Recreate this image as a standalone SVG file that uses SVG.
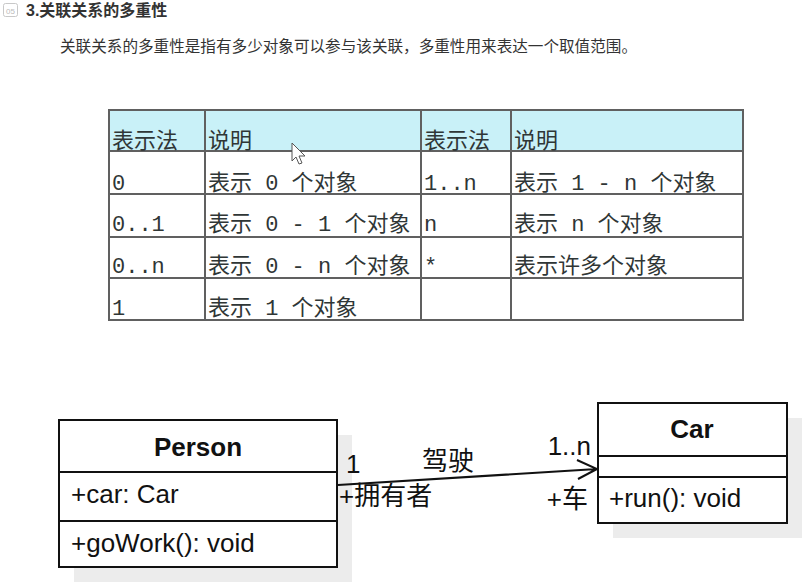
<svg xmlns="http://www.w3.org/2000/svg" width="802" height="583" viewBox="0 0 802 583">
<style>
.t{font-family:"Liberation Mono","Noto Sans CJK SC",monospace;font-size:22px;fill:#2f3636}
.g{stroke:#606060;stroke-width:2;fill:none}
.u{font-family:"Liberation Sans","Noto Sans CJK SC",sans-serif;font-size:26px;fill:#111}
.b{font-weight:bold}
.box{fill:#fff;stroke:#111;stroke-width:2}
.sh{fill:#ececec}
</style>
<rect width="802" height="583" fill="#fff"/>
<g id="heading">
<rect x="3.5" y="3.5" width="14" height="13" rx="2" fill="none" stroke="#c8c8c8"/>
<text x="10.5" y="13.5" font-family="Liberation Sans,sans-serif" font-size="8" fill="#bbb" text-anchor="middle">05</text>
<text x="26" y="16" font-family="Liberation Sans,'Noto Sans CJK SC',sans-serif" font-size="16" font-weight="bold" fill="#333">3.关联关系的多重性</text>
<text x="60" y="52" font-family="'Noto Sans CJK SC',sans-serif" font-size="15.6" fill="#333">关联关系的多重性是指有多少对象可以参与该关联，多重性用来表达一个取值范围。</text>
</g>
<g id="table">
<rect x="109" y="110" width="634" height="41" fill="#c9f1f8"/>
<path class="g" d="M109 110H743V320H109Z M109 151H743 M109 194H743 M109 237H743 M109 278H743 M205 110V320 M421 110V320 M511 110V320"/>
<text class="t" x="112" y="148">表示法</text>
<text class="t" x="208" y="148">说明</text>
<text class="t" x="424" y="148">表示法</text>
<text class="t" x="514" y="148">说明</text>
<text class="t" x="112" y="190">0</text>
<text class="t" x="208" y="190">表示 0 个对象</text>
<text class="t" x="424" y="190">1..n</text>
<text class="t" x="514" y="190">表示 1 - n 个对象</text>
<text class="t" x="112" y="231">0..1</text>
<text class="t" x="208" y="231">表示 0 - 1 个对象</text>
<text class="t" x="424" y="231">n</text>
<text class="t" x="514" y="231">表示 n 个对象</text>
<text class="t" x="112" y="273">0..n</text>
<text class="t" x="208" y="273">表示 0 - n 个对象</text>
<text class="t" x="424" y="273">*</text>
<text class="t" x="514" y="273">表示许多个对象</text>
<text class="t" x="112" y="315">1</text>
<text class="t" x="208" y="315">表示 1 个对象</text>
<path d="M292 143L292 161L296 157L299 164L302 163L299 156L305 156Z" fill="#fff" stroke="#555" stroke-width="1"/>
</g>
<g id="Person">
<rect class="sh" x="74" y="435" width="278" height="147"/>
<rect class="box" x="59" y="420" width="278" height="147"/>
<path d="M59 472H337 M59 521H337" stroke="#111" stroke-width="2"/>
<text class="u b" x="198" y="456" text-anchor="middle">Person</text>
<text class="u" x="71" y="503">+car: Car</text>
<text class="u" x="71" y="552">+goWork(): void</text>
</g>
<g id="Car">
<rect class="sh" x="613" y="418" width="189" height="120"/>
<rect class="box" x="598" y="403" width="189" height="120"/>
<path d="M598 456H787 M598 477H787" stroke="#111" stroke-width="2"/>
<text class="u b" x="692" y="438" text-anchor="middle">Car</text>
<text class="u" x="609" y="507">+run(): void</text>
</g>
<g id="connectors">
<path d="M338 485L597 469 M577 460L597 469L578 479" fill="none" stroke="#111" stroke-width="2"/>
<text class="u" x="346" y="473">1</text>
<text class="u" x="339" y="505">+拥有者</text>
<text class="u" x="422" y="470">驾驶</text>
<text class="u" x="591" y="455" text-anchor="end">1..n</text>
<text class="u" x="588" y="508" text-anchor="end">+车</text>
</g>
</svg>
